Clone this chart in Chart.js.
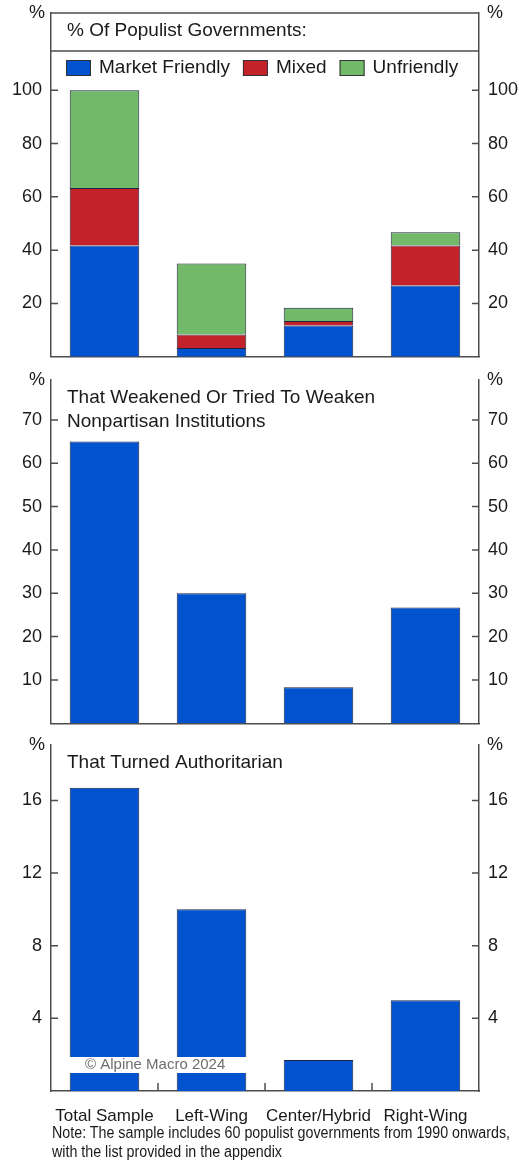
<!DOCTYPE html>
<html>
<head>
<meta charset="utf-8">
<script src="https://cdn.jsdelivr.net/npm/chart.js@4.4.1/dist/chart.umd.min.js"></script>
<style>
  html, body { margin: 0; padding: 0; background: #fff; }
  body { width: 519px; height: 1161px; position: relative; overflow: hidden; font-family: 'Liberation Sans', Arial, sans-serif; }
  .panel { position: absolute; left: 0; width: 519px; }
  #note { position: absolute; left: 52px; top: 1123px; font-size: 16px; line-height: 19px; color: #1a1a1a; white-space: nowrap; transform-origin: 0 0; }
</style>
</head>
<body>
<div class="panel" style="top:0;height:360px"><canvas id="c1"></canvas></div>
<div class="panel" style="top:360px;height:368px"><canvas id="c2"></canvas></div>
<div class="panel" style="top:728px;height:433px"><canvas id="c3"></canvas></div>
<div id="note"><div id="noteLine1">Note: The sample includes 60 populist governments from 1990 onwards,</div><div>with the list provided in the appendix</div></div>
<script>
// Government groupings
const categories = ['Total Sample', 'Left-Wing', 'Center/Hybrid', 'Right-Wing'];

// % of populist governments by economic policy stance
const marketFriendly = [41.7, 3.3, 11.7, 26.7];
const mixed          = [21.6, 5.0, 1.7, 15.0];
const unfriendly     = [36.7, 26.7, 5.0, 5.0];

// % that weakened or tried to weaken nonpartisan institutions
const weakened = [65.0, 30.0, 8.3, 26.7];

// % that turned authoritarian
const authoritarian = [16.7, 10.0, 1.7, 5.0];

// Tick labels for each panel
const stanceTicks = [20, 40, 60, 80, 100];
const weakenedTicks = [10, 20, 30, 40, 50, 60, 70];
const authoritarianTicks = [4, 8, 12, 16];

const FONT = "'Liberation Sans', Arial, sans-serif";
const AXIS = '#4d4d4d';
const TEXT = '#1a1a1a';
const BLUE = '#0052cf';
const RED = '#c4222b';
const GREEN = '#72b969';
const EDGE = '#1d2340';

// Decorations: inward tick marks, "%" unit labels, panel headings, legend, watermark
const panelDecor = {
  id: 'panelDecor',
  afterDraw(chart, args, opts) {
    const ctx = chart.ctx;
    const a = chart.chartArea;
    const y = chart.scales.y;
    ctx.save();
    ctx.strokeStyle = AXIS;
    ctx.lineWidth = 1.5;
    // inward y tick marks on both axes
    y.ticks.forEach(t => {
      const py = y.getPixelForValue(t.value);
      ctx.beginPath();
      ctx.moveTo(a.left, py); ctx.lineTo(a.left + 7, py);
      ctx.moveTo(a.right, py); ctx.lineTo(a.right - 7, py);
      ctx.stroke();
    });
    // unit labels
    ctx.fillStyle = TEXT;
    ctx.font = '18px ' + FONT;
    ctx.textBaseline = 'middle';
    ctx.textAlign = 'right';
    ctx.fillText('%', a.left - 6, a.top);
    ctx.textAlign = 'left';
    ctx.fillText('%', a.right + 8, a.top);

    if (opts.boxed) {
      ctx.beginPath();
      ctx.moveTo(a.left, a.top); ctx.lineTo(a.right, a.top);
      ctx.moveTo(a.left, a.top + 38); ctx.lineTo(a.right, a.top + 38);
      ctx.stroke();
    }
    // heading lines
    ctx.font = '19px ' + FONT;
    ctx.textAlign = 'left';
    (opts.heading || []).forEach((line, i) => {
      ctx.fillText(line, a.left + 16, a.top + 18 + i * 24);
    });
    // legend
    if (opts.legend) {
      let x = a.left + 15;
      const cy = a.top + 55;
      chart.data.datasets.forEach(ds => {
        ctx.fillStyle = ds.backgroundColor;
        ctx.fillRect(x, cy - 8, 25, 16);
        ctx.lineWidth = 1;
        ctx.strokeStyle = '#333';
        ctx.strokeRect(x + 0.5, cy - 7.5, 24, 15);
        x += 33;
        ctx.fillStyle = TEXT;
        ctx.fillText(ds.label, x, cy);
        x += ctx.measureText(ds.label).width + 13;
      });
    }
    // small category separators on the x axis
    if (opts.xSeparators) {
      const xs = chart.scales.x;
      ctx.strokeStyle = AXIS;
      ctx.lineWidth = 1.5;
      for (let i = 0; i < categories.length - 1; i++) {
        const px = xs.getPixelForValue(i + 0.5);
        ctx.beginPath();
        ctx.moveTo(px, a.bottom); ctx.lineTo(px, a.bottom - 8);
        ctx.stroke();
      }
    }
    // watermark
    if (opts.watermark) {
      ctx.fillStyle = '#fff';
      ctx.fillRect(a.left + 9, a.bottom - 34, 196, 16);
      ctx.fillStyle = '#6e6e6e';
      ctx.font = '15px ' + FONT;
      ctx.textBaseline = 'middle';
      ctx.fillText(opts.watermark, a.left + 34, a.bottom - 26);
    }
    ctx.restore();
  }
};

function yAxis(position, max, tickValues, width) {
  return {
    position,
    min: 0,
    max,
    grid: { display: false, drawTicks: false },
    border: { display: true, color: AXIS, width: 1.5 },
    ticks: { padding: 9, color: TEXT, font: { family: FONT, size: 18 } },
    afterBuildTicks: s => { s.ticks = tickValues.map(v => ({ value: v })); },
    afterFit: s => { s.width = width; s.paddingTop = 0; s.paddingBottom = 0; }
  };
}

function makeChart(id, datasets, cfg) {
  return new Chart(document.getElementById(id), {
    type: 'bar',
    data: { labels: categories, datasets },
    options: {
      responsive: true,
      maintainAspectRatio: false,
      animation: false,
      layout: { padding: { top: cfg.padTop, left: 0, right: 0, bottom: 0 } },
      datasets: { bar: { categoryPercentage: 1, barPercentage: 0.65, borderColor: EDGE, borderWidth: 1 } },
      plugins: {
        legend: { display: false },
        tooltip: { enabled: false },
        panelDecor: cfg.decor
      },
      scales: {
        x: {
          stacked: true,
          grid: { display: false },
          border: { display: true, color: AXIS, width: 1.5 },
          ticks: { display: !!cfg.showX, padding: 7, maxRotation: 0, minRotation: 0, autoSkip: false,
                   color: TEXT, font: { family: FONT, size: 17 } },
          afterFit: s => { s.height = cfg.xHeight; s.paddingLeft = 0; s.paddingRight = 0; }
        },
        y: Object.assign(yAxis('left', cfg.max, cfg.ticks, 51), { stacked: true }),
        y2: yAxis('right', cfg.max, cfg.ticks, 40)
      }
    },
    plugins: [panelDecor]
  });
}

makeChart('c1', [
  { label: 'Market Friendly', data: marketFriendly, backgroundColor: BLUE },
  { label: 'Mixed', data: mixed, backgroundColor: RED },
  { label: 'Unfriendly', data: unfriendly, backgroundColor: GREEN }
], { padTop: 13, xHeight: 3.3, max: 129, ticks: stanceTicks,
     decor: { boxed: true, legend: true, heading: ['% Of Populist Governments:'] } });

makeChart('c2', [
  { label: 'Weakened institutions', data: weakened, backgroundColor: BLUE }
], { padTop: 20, xHeight: 4.7, max: 79.2, ticks: weakenedTicks,
     decor: { heading: ['That Weakened Or Tried To Weaken', 'Nonpartisan Institutions'] } });

makeChart('c3', [
  { label: 'Turned authoritarian', data: authoritarian, backgroundColor: BLUE }
], { padTop: 17, xHeight: 70, max: 19.05, ticks: authoritarianTicks, showX: true,
     decor: { heading: ['That Turned Authoritarian'], xSeparators: true, watermark: '\u00A9 Alpine Macro 2024' } });

// fit the footnote to the width of the chart block
const note = document.getElementById('note');
const line1 = document.getElementById('noteLine1');
const w = line1.getBoundingClientRect().width;
note.style.transform = 'scaleX(' + (458 / w) + ')';
</script>
</body>
</html>
